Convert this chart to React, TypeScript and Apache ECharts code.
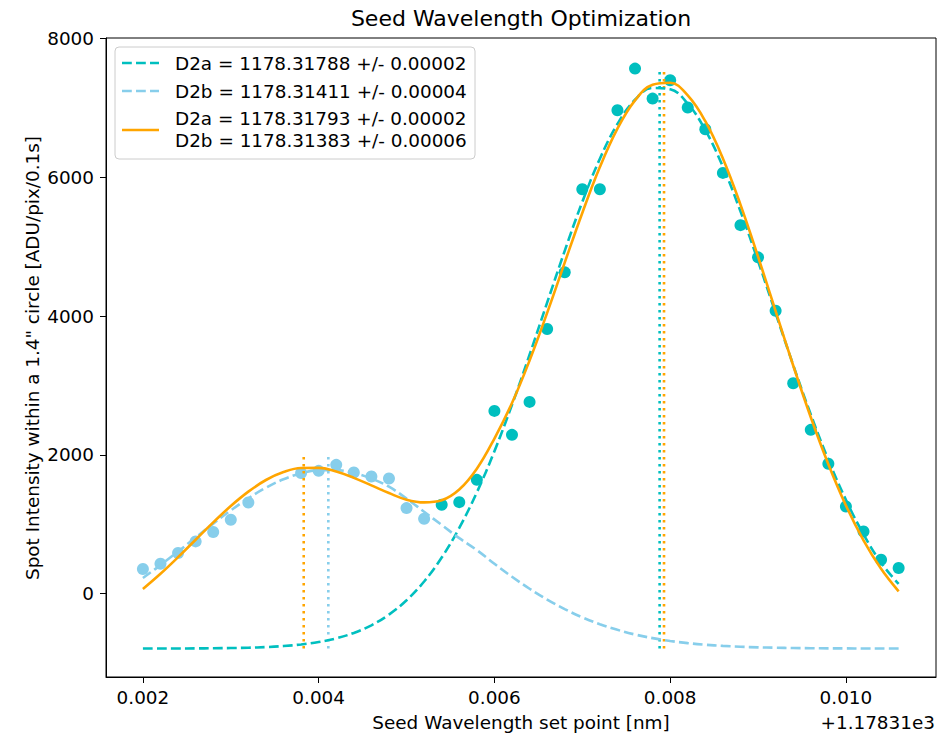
import React, { useEffect, useRef } from "react";
import * as echarts from "echarts";

// Measured spot intensity vs. seed wavelength (offset from 1178.31 nm)
const xSky = [0.002, 0.0022, 0.0024, 0.0026, 0.0028, 0.003, 0.0032, 0.0038, 0.004, 0.0042, 0.0044, 0.0046, 0.0048, 0.005, 0.0052];
const ySky = [355, 432, 586, 753, 888, 1065, 1314, 1737, 1770, 1856, 1745, 1688, 1659, 1233, 1079];

const xTeal = [0.0054, 0.0056, 0.0058, 0.006, 0.0062, 0.0064, 0.0066, 0.0068, 0.007, 0.0072, 0.0074, 0.0076, 0.0078, 0.008, 0.0082, 0.0084, 0.0086, 0.0088, 0.009, 0.0092, 0.0094, 0.0096, 0.0098, 0.01, 0.0102, 0.0104, 0.0106];
const yTeal = [1281, 1319, 1640, 2633, 2288, 2763, 3813, 4629, 5827, 5827, 6964, 7564, 7132, 7396, 7003, 6691, 6062, 5309, 4845, 4076, 3032, 2360, 1871, 1256, 896, 489, 370];

// Fit curves sampled on a common grid
const fitX = [0.002, 0.0022, 0.0024, 0.0026, 0.0028, 0.003, 0.0032, 0.0034, 0.0036, 0.0038, 0.004, 0.0042, 0.0044, 0.0046, 0.0048, 0.005, 0.0052, 0.0054, 0.0056, 0.0058, 0.006, 0.0062, 0.0064, 0.0066, 0.0068, 0.007, 0.0072, 0.0074, 0.0076, 0.0078, 0.008, 0.0082, 0.0084, 0.0086, 0.0088, 0.009, 0.0092, 0.0094, 0.0096, 0.0098, 0.01, 0.0102, 0.0104, 0.0106];
const fitD2a = [-790, -789, -789, -788, -786, -783, -778, -769, -754, -731, -696, -643, -565, -455, -301, -95, 176, 521, 948, 1459, 2053, 2720, 3442, 4193, 4939, 5644, 6266, 6767, 7115, 7285, 7266, 7059, 6678, 6150, 5508, 4792, 4041, 3294, 2581, 1928, 1351, 856, 446, 140];
const fitD2b = [226, 412, 608, 809, 1009, 1200, 1375, 1527, 1648, 1733, 1778, 1780, 1739, 1658, 1541, 1370, 1180, 990, 800, 628, 431, 244, 71, -85, -222, -340, -440, -521, -588, -640, -681, -712, -735, -752, -764, -773, -778, -783, -785, -787, -788, -789, -789, -790];
const fitBoth = [68, 287, 526, 777, 1027, 1263, 1470, 1638, 1752, 1810, 1812, 1759, 1669, 1560, 1450, 1355, 1315, 1345, 1500, 1800, 2235, 2746, 3359, 4046, 4770, 5485, 6145, 6699, 7106, 7331, 7360, 7177, 6806, 6269, 5605, 4856, 4070, 3287, 2542, 1865, 1271, 769, 359, 34];

// Fitted line centres (vertical markers)
const centreX = [0.00383, 0.00411, 0.00788, 0.00793];
const centreTop = [2014, 2014, 7564, 7564];
const centreBottom = -790;

const xTicks = [0.002, 0.004, 0.006, 0.008, 0.01];
const yTicks = [0, 2000, 4000, 6000, 8000];

const legendLabels = [
  "D2a = 1178.31788 +/- 0.00002",
  "D2b = 1178.31411 +/- 0.00004",
  "D2a = 1178.31793 +/- 0.00002\nD2b = 1178.31383 +/- 0.00006",
];

const TEAL = "#00bfbf";
const SKY = "#87ceeb";
const ORANGE = "#ffa500";
const FONT = "DejaVu Sans";
const FS = 18.4;
const LW = 2.6;
const DASH = [9.8, 4.2];
const DOT = [2.6, 4.4];

const pairs = (xs: number[], ys: number[]) => xs.map((x, i) => [x, ys[i]]);

export default function App() {
  const ref = useRef<HTMLDivElement>(null);

  useEffect(() => {
    if (!ref.current) return;
    const chart = echarts.init(ref.current, null, { renderer: "svg" });
    const centreColors = [ORANGE, SKY, TEAL, ORANGE];

    const vlines = centreX.map((x, i) => ({
      type: "line",
      data: [[x, centreBottom], [x, centreTop[i]]],
      symbol: "none",
      lineStyle: { color: centreColors[i], width: LW, type: DOT, cap: "butt" },
      z: 3,
    }));

    chart.setOption({
      animation: false,
      textStyle: { fontFamily: FONT },
      grid: {
        left: 106,
        top: 38,
        right: 1,
        bottom: 59,
        show: true,
        borderColor: "#000",
        borderWidth: 1,
      },
      xAxis: {
        type: "value",
        min: 0.00158,
        max: 0.011025,
        axisLine: { show: true, onZero: false, lineStyle: { color: "#000" } },
        axisTick: { show: true, length: 6, customValues: xTicks, lineStyle: { color: "#000" } },
        axisLabel: {
          customValues: xTicks,
          formatter: (v: number) => v.toFixed(3),
          color: "#000",
          fontSize: FS,
          margin: 11,
          fontFamily: FONT,
        },
        splitLine: { show: false },
      },
      yAxis: {
        type: "value",
        min: -1200,
        max: 8005,
        axisLine: { show: true, lineStyle: { color: "#000" } },
        axisTick: { show: true, length: 6, customValues: yTicks, lineStyle: { color: "#000" } },
        axisLabel: {
          customValues: yTicks,
          formatter: (v: number) => String(Math.round(v)),
          color: "#000",
          fontSize: FS,
          margin: 12,
          fontFamily: FONT,
        },
        splitLine: { show: false },
      },
      series: [
        {
          type: "scatter",
          data: pairs(xSky, ySky),
          symbolSize: 12,
          itemStyle: { color: SKY, opacity: 1 },
          z: 2,
        },
        {
          type: "scatter",
          data: pairs(xTeal, yTeal),
          symbolSize: 12,
          itemStyle: { color: TEAL, opacity: 1 },
          z: 2,
        },
        ...vlines,
        {
          type: "line",
          data: pairs(fitX, fitD2a),
          symbol: "none",
          smooth: 0.4,
          lineStyle: { color: TEAL, width: LW, type: DASH, cap: "butt" },
          z: 4,
        },
        {
          type: "line",
          data: pairs(fitX, fitD2b),
          symbol: "none",
          smooth: 0.4,
          lineStyle: { color: SKY, width: LW, type: DASH, cap: "butt" },
          z: 4,
        },
        {
          type: "line",
          data: pairs(fitX, fitBoth),
          symbol: "none",
          smooth: 0.4,
          lineStyle: { color: ORANGE, width: LW },
          z: 5,
        },
      ],
      graphic: [
        {
          type: "text",
          x: 521,
          y: 18,
          style: {
            text: "Seed Wavelength Optimization",
            font: `22px "${FONT}"`,
            fill: "#000",
            align: "center",
            verticalAlign: "middle",
          },
        },
        {
          type: "text",
          x: 521,
          y: 722,
          style: {
            text: "Seed Wavelength set point [nm]",
            font: `${FS}px "${FONT}"`,
            fill: "#000",
            align: "center",
            verticalAlign: "middle",
          },
        },
        {
          type: "text",
          x: 935,
          y: 722,
          style: {
            text: "+1.17831e3",
            font: `${FS}px "${FONT}"`,
            fill: "#000",
            align: "right",
            verticalAlign: "middle",
          },
        },
        {
          type: "text",
          x: 32,
          y: 358,
          rotation: Math.PI / 2,
          style: {
            text: "Spot Intensity within a 1.4\" circle [ADU/pix/0.1s]",
            font: `${FS}px "${FONT}"`,
            fill: "#000",
            align: "center",
            verticalAlign: "middle",
          },
        },
        {
          type: "group",
          z: 100,
          children: [
            {
              type: "rect",
              shape: { x: 115, y: 47, width: 360, height: 112, r: 4 },
              style: { fill: "rgba(255,255,255,0.8)", stroke: "#cccccc", lineWidth: 1 },
            },
            {
              type: "line",
              shape: { x1: 122, y1: 63, x2: 159, y2: 63 },
              style: { stroke: TEAL, lineWidth: LW, lineDash: DASH, lineCap: "butt" },
            },
            {
              type: "line",
              shape: { x1: 122, y1: 91, x2: 159, y2: 91 },
              style: { stroke: SKY, lineWidth: LW, lineDash: DASH, lineCap: "butt" },
            },
            {
              type: "line",
              shape: { x1: 122, y1: 130, x2: 159, y2: 130 },
              style: { stroke: ORANGE, lineWidth: LW },
            },
            {
              type: "text",
              x: 175,
              y: 63,
              style: { text: legendLabels[0], font: `${FS}px "${FONT}"`, fill: "#000", verticalAlign: "middle" },
            },
            {
              type: "text",
              x: 175,
              y: 91,
              style: { text: legendLabels[1], font: `${FS}px "${FONT}"`, fill: "#000", verticalAlign: "middle" },
            },
            {
              type: "text",
              x: 175,
              y: 129,
              style: {
                text: legendLabels[2],
                font: `${FS}px "${FONT}"`,
                fill: "#000",
                verticalAlign: "middle",
                lineHeight: 22,
              },
            },
          ],
        },
      ],
    });

    return () => chart.dispose();
  }, []);

  return <div ref={ref} style={{ position: "absolute", left: 0, top: 0, width: 937, height: 736 }} />;
}
